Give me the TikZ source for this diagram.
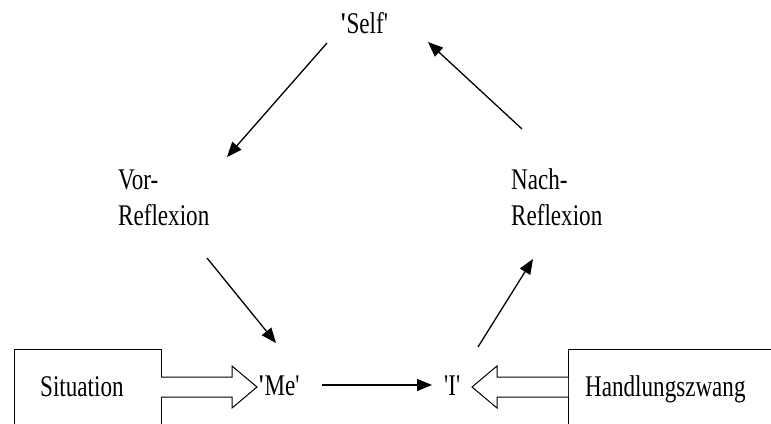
\documentclass[tikz,border=0pt]{standalone}
\usepackage{fontspec}
\newfontfamily\tf[FakeStretch=0.77]{Liberation Serif}
\usetikzlibrary{arrows.meta}
\tikzset{
  lbl/.style={anchor=base west,inner sep=0pt,font=\tf\fontsize{30}{36}\selectfont},
  conn/.style={line width=1.3pt,-{Triangle[length=15pt,width=12pt]}},
  boxline/.style={line width=1pt},
  hollow/.style={line width=1pt,fill=white,line join=miter}
}
\begin{document}
\begin{tikzpicture}[x=1pt,y=-1pt]
\useasboundingbox (0,0) rectangle (771,423);
% text nodes
\node[lbl] (self) at (340,33) {{\bfseries '}Self'};
\node[lbl] (vor1) at (118,189) {Vor-};
\node[lbl] (vor2) at (118,225) {Reflexion};
\node[lbl] (nach1) at (511,189) {Nach-};
\node[lbl] (nach2) at (511,225) {Reflexion};
\node[lbl] (me) at (258,395) {{\bfseries '}Me'};
\node[lbl] (i) at (444,395) {'I'};
\node[lbl] (sit) at (40,396) {Situation};
\node[lbl] (hz) at (585,396) {Handlungszwang};
% boxes
\coordinate (sitNW) at (14,349);
\coordinate (sitNE) at (161,349);
\draw[boxline] (14,430) -- (sitNW) -- (sitNE) -- (161,430);
\coordinate (hzNW) at (568,349);
\draw[boxline] (568,430) -- (hzNW) -- (775,349);
% hollow arrows
\draw[hollow] (161,377) -- (232,377) -- (232,366) -- (257,387) -- (232,408) -- (232,397) -- (161,397);
\draw[hollow] (568,377) -- (497,377) -- (497,366) -- (472,387) -- (497,408) -- (497,397) -- (568,397);
% connector end points
\coordinate (a1) at (327,43);
\coordinate (a2) at (227,157);
\coordinate (b1) at (522,129);
\coordinate (b2) at (428,42);
\coordinate (c1) at (207,258);
\coordinate (c2) at (276,343);
\coordinate (d1) at (478,347);
\coordinate (d2) at (533,259);
\coordinate (e1) at (322,385);
\coordinate (e2) at (432,385);
\draw[conn] (a1) -- (a2);
\draw[conn] (b1) -- (b2);
\draw[conn] (c1) -- (c2);
\draw[conn] (d1) -- (d2);
\draw[conn] (e1) -- (e2);
\end{tikzpicture}
\end{document}
